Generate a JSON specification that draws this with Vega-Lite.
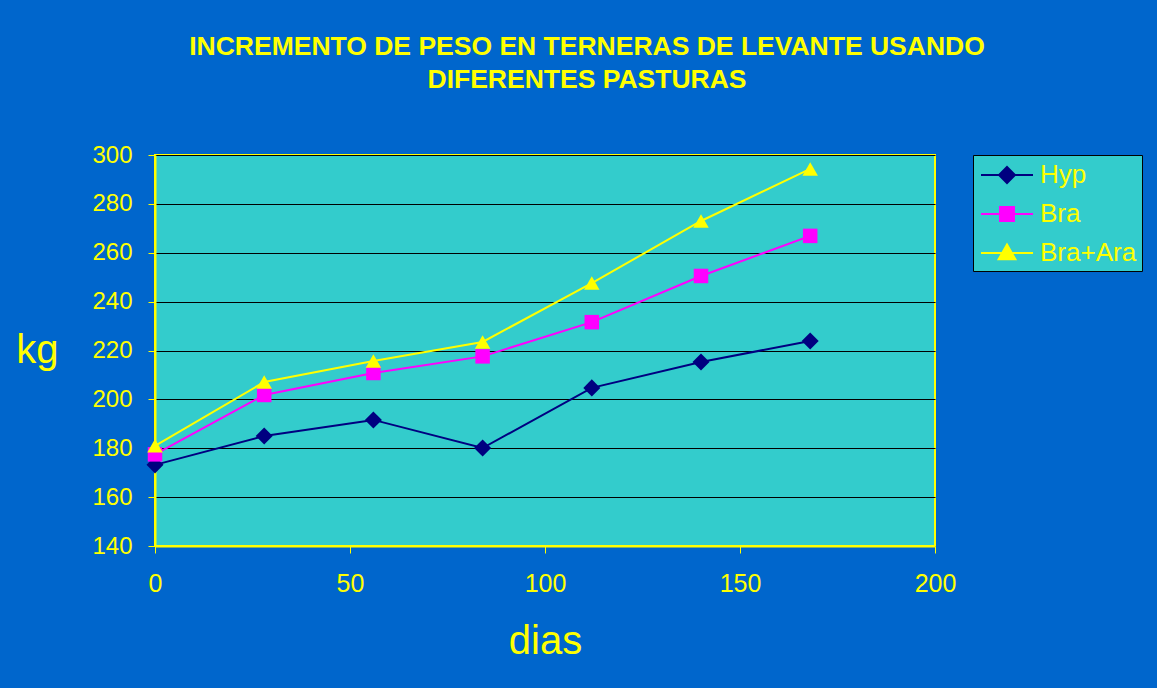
{
  "$schema": "https://vega.github.io/schema/vega-lite/v6.json",
  "width": 780,
  "height": 391,
  "autosize": "none",
  "padding": {"left": 155, "top": 155, "right": 222, "bottom": 142},
  "background": "#0066CC",
  "title": {
    "text": ["INCREMENTO DE PESO EN TERNERAS DE LEVANTE USANDO", "DIFERENTES PASTURAS"],
    "color": "#FFFF00",
    "font": "Liberation Sans",
    "fontSize": 26.5,
    "fontWeight": "bold",
    "anchor": "middle",
    "frame": "group",
    "dx": 42,
    "offset": 50,
    "lineHeight": 33
  },
  "config": {
    "view": {"fill": "#33CCCC", "stroke": "#FFFF00", "strokeWidth": 2},
    "font": "Liberation Sans"
  },
  "data": {
    "values": [
      {"dias": 0, "serie": "Hyp", "kg": 173.2},
      {"dias": 28, "serie": "Hyp", "kg": 185},
      {"dias": 56, "serie": "Hyp", "kg": 191.6},
      {"dias": 84, "serie": "Hyp", "kg": 180.1},
      {"dias": 112, "serie": "Hyp", "kg": 204.7},
      {"dias": 140, "serie": "Hyp", "kg": 215.3},
      {"dias": 168, "serie": "Hyp", "kg": 223.9},
      {"dias": 0, "serie": "Bra", "kg": 177.5},
      {"dias": 28, "serie": "Bra", "kg": 201.8},
      {"dias": 56, "serie": "Bra", "kg": 210.8},
      {"dias": 84, "serie": "Bra", "kg": 217.6},
      {"dias": 112, "serie": "Bra", "kg": 231.6},
      {"dias": 140, "serie": "Bra", "kg": 250.5},
      {"dias": 168, "serie": "Bra", "kg": 266.9},
      {"dias": 0, "serie": "Bra+Ara", "kg": 181},
      {"dias": 28, "serie": "Bra+Ara", "kg": 207.1},
      {"dias": 56, "serie": "Bra+Ara", "kg": 215.7},
      {"dias": 84, "serie": "Bra+Ara", "kg": 223.5},
      {"dias": 112, "serie": "Bra+Ara", "kg": 247.6},
      {"dias": 140, "serie": "Bra+Ara", "kg": 273},
      {"dias": 168, "serie": "Bra+Ara", "kg": 294.3}
    ]
  },
  "encoding": {
    "x": {
      "field": "dias",
      "type": "quantitative",
      "scale": {"domain": [0, 200], "nice": false},
      "axis": {
        "values": [0, 50, 100, 150, 200],
        "title": "dias",
        "titleFontSize": 40,
        "titleFontWeight": "normal",
        "titleColor": "#FFFF00",
        "titlePadding": 25,
        "labelColor": "#FFFF00",
        "labelFontSize": 25,
        "labelPadding": 18,
        "labelFlush": false,
        "domainColor": "#FFFF00",
        "domainWidth": 2,
        "tickColor": "#FFFF00",
        "tickWidth": 1,
        "tickSize": 7,
        "grid": false
      }
    },
    "y": {
      "field": "kg",
      "type": "quantitative",
      "scale": {"domain": [140, 300], "nice": false, "zero": false},
      "axis": {
        "values": [140, 160, 180, 200, 220, 240, 260, 280, 300],
        "title": "kg",
        "titleAngle": 0,
        "titleBaseline": "middle",
        "titleFontSize": 40,
        "titleFontWeight": "normal",
        "titleColor": "#FFFF00",
        "titlePadding": 55,
        "labelColor": "#FFFF00",
        "labelFontSize": 24,
        "labelPadding": 16,
        "labelFlush": false,
        "domainColor": "#FFFF00",
        "domainWidth": 2,
        "tickColor": "#FFFF00",
        "tickWidth": 1,
        "tickSize": 7,
        "grid": true,
        "gridColor": "#000000",
        "gridWidth": 1,
        "gridOpacity": 1
      }
    },
    "color": {
      "field": "serie",
      "type": "nominal",
      "scale": {"domain": ["Hyp", "Bra", "Bra+Ara"], "range": ["#000080", "#FF00FF", "#FFFF00"]},
      "legend": {
        "title": null,
        "orient": "right",
        "offset": 38,
        "padding": 5,
        "fillColor": "#33CCCC",
        "strokeColor": "#000000",
        "labelColor": "#FFFF00",
        "labelFont": "Liberation Sans",
        "labelFontSize": 26,
        "labelOffset": 32,
        "rowPadding": 11,
        "symbolSize": 784,
        "encode": {
          "symbols": {
            "update": {
              "shape": {"signal": "datum.value === 'Hyp' ? 'M-0.857,0H2.857M1,-0.57L1.57,0L1,0.57L0.43,0Z' : datum.value === 'Bra' ? 'M-0.857,0H2.857M0.5,-0.5H1.5V0.5H0.5Z' : 'M-0.857,0H2.857M1,-0.6L1.6,0.45H0.4Z'"},
              "fill": {"signal": "datum.value === 'Hyp' ? '#000080' : datum.value === 'Bra' ? '#FF00FF' : '#FFFF00'"},
              "stroke": {"signal": "datum.value === 'Hyp' ? '#000080' : datum.value === 'Bra' ? '#FF00FF' : '#FFFF00'"},
              "strokeWidth": {"value": 2},
              "opacity": {"value": 1}
            }
          }
        }
      }
    }
  },
  "layer": [
    {"mark": {"type": "line", "strokeWidth": 2}},
    {
      "transform": [{"filter": "datum.serie === 'Hyp'"}],
      "mark": {"type": "point", "shape": "diamond", "filled": true, "opacity": 1, "size": 290}
    },
    {
      "transform": [{"filter": "datum.serie === 'Bra'"}],
      "mark": {"type": "point", "shape": "square", "filled": true, "opacity": 1, "size": 210}
    },
    {
      "transform": [{"filter": "datum.serie === 'Bra+Ara'"}],
      "mark": {"type": "point", "shape": "triangle-up", "filled": true, "opacity": 1, "size": 240}
    }
  ]
}
